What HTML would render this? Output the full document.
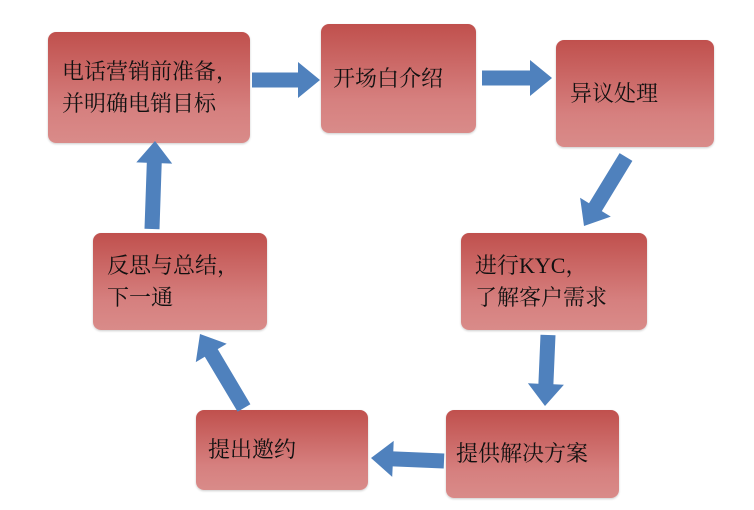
<!DOCTYPE html>
<html><head><meta charset="utf-8"><style>
body{margin:0;width:754px;height:510px;background:#fff;position:relative;overflow:hidden;font-family:"Liberation Serif","Noto Serif CJK SC",serif}
.b{position:absolute;border-radius:8px;background:linear-gradient(#c0504d,#d6807f 70%,#d98b89);box-shadow:0 1px 2px rgba(0,0,0,.2);font-size:22px;color:#111;line-height:32px;box-sizing:border-box;padding-left:14px;display:flex;align-items:center}
svg{position:absolute;left:0;top:0}
</style></head><body>
<div class="b" style="left:48px;top:32px;width:202px;height:111px">电话营销前准备，<br>并明确电销目标</div>
<div class="b" style="left:321px;top:24px;width:155px;height:109px;padding-left:12px">开场白介绍</div>
<div class="b" style="left:556px;top:40px;width:158px;height:107px">异议处理</div>
<div class="b" style="left:461px;top:233px;width:186px;height:97px">进行KYC，<br>了解客户需求</div>
<div class="b" style="left:446px;top:410px;width:173px;height:88px;padding-left:10px">提供解决方案</div>
<div class="b" style="left:196px;top:410px;width:172px;height:80px;padding-left:12px">提出邀约</div>
<div class="b" style="left:93px;top:233px;width:174px;height:97px">反思与总结，<br>下一通</div>
<svg width="754" height="510" id="s"></svg>
<script>
var A=[[252,80,320,80],[482,78,552,78],[626,157,584,226],[548,335,545,406],[444,461,371,458],[244,408,200,334],[152,229,155,141]];
var s=document.getElementById('s'),h='';
A.forEach(function(a){var dx=a[2]-a[0],dy=a[3]-a[1],L=Math.hypot(dx,dy),ux=dx/L,uy=dy/L,px=-uy,py=ux,w=7.5,hw=18,hl=22;
var bx=a[2]-ux*hl,by=a[3]-uy*hl;
var p=[[a[0]+px*w,a[1]+py*w],[bx+px*w,by+py*w],[bx+px*hw,by+py*hw],[a[2],a[3]],[bx-px*hw,by-py*hw],[bx-px*w,by-py*w],[a[0]-px*w,a[1]-py*w]];
h+='<polygon fill="#4f81bd" points="'+p.map(function(q){return q[0].toFixed(1)+','+q[1].toFixed(1)}).join(' ')+'"/>';});
s.innerHTML=h;
</script>
</body></html>
